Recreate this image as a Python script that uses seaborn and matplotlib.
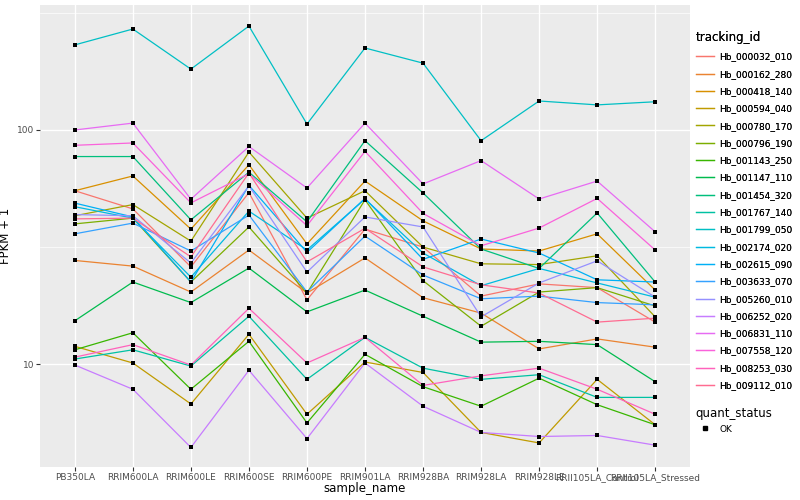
import pandas as pd
import numpy as np
import matplotlib
matplotlib.use("Agg")
import matplotlib.pyplot as plt
from matplotlib.lines import Line2D
import matplotlib.ticker as mticker
import seaborn as sns

samples = ["PB350LA", "RRIM600LA", "RRIM600LE", "RRIM600SE", "RRIM600PE", "RRIM901LA",
           "RRIM928BA", "RRIM928LA", "RRIM928LE", "RRII105LA_Control", "RRII105LA_Stressed"]

genes = ["Hb_000032_010", "Hb_000162_280", "Hb_000418_140", "Hb_000594_040", "Hb_000780_170",
         "Hb_000796_190", "Hb_001143_250", "Hb_001147_110", "Hb_001454_320", "Hb_001767_140",
         "Hb_001799_050", "Hb_002174_020", "Hb_002615_090", "Hb_003633_070", "Hb_005260_010",
         "Hb_006252_020", "Hb_006831_110", "Hb_007558_120", "Hb_008253_030", "Hb_009112_010"]

# FPKM + 1 per gene, in sample order
hb_000032_010 = [55, 46, 26, 54, 18.8, 37.7, 31.6, 19.5, 22, 21.2, 15.1]
hb_000162_280 = [27.7, 26.2, 20.3, 30.7, 20.1, 28.4, 19.2, 16.5, 11.6, 12.8, 11.8]
hb_000418_140 = [55, 63.6, 37.7, 71, 32.6, 60.5, 40.9, 31, 30.4, 36, 20.7]
hb_000594_040 = [11.9, 10.1, 6.75, 13.4, 6.1, 10.2, 9.2, 5.1, 4.6, 8.6, 5.5]
hb_000780_170 = [43, 48, 33.5, 80.5, 42, 55, 31.6, 26.8, 26.6, 29, 15.9]
hb_000796_190 = [39.7, 42, 22.4, 38.5, 20.1, 50.3, 22.7, 14.5, 20.3, 21.2, 17.7]
hb_001143_250 = [11.5, 13.6, 7.8, 12.5, 5.6, 11.0, 8.0, 6.6, 8.7, 6.7, 5.5]
hb_001147_110 = [15.3, 22.4, 18.3, 25.7, 16.7, 20.7, 16.0, 12.4, 12.5, 12.1, 8.4]
hb_001454_320 = [77, 77, 41.3, 66, 40.5, 90, 53.8, 31, 25.6, 44.2, 22.4]
hb_001767_140 = [10.5, 11.5, 9.8, 16.0, 8.6, 13.0, 9.6, 8.6, 9.0, 7.2, 7.2]
hb_001799_050 = [231, 270, 182, 278, 106, 224, 193, 90, 133, 128, 132]
hb_002174_020 = [47, 42, 23.5, 45, 30.7, 50.7, 29.8, 21.6, 25.6, 22.2, 19.3]
hb_002615_090 = [48.7, 42.5, 22.4, 58, 30, 51, 28, 34.2, 29.8, 22.9, 22.4]
hb_003633_070 = [36, 40, 30.4, 43.3, 20.3, 35.2, 24, 19.0, 19.5, 18.3, 17.9]
hb_005260_010 = [43.5, 43, 27, 57.7, 24.7, 42.5, 38.5, 15.9, 22.2, 27.6, 19.3]
hb_006252_020 = [9.9, 7.8, 4.4, 9.4, 4.8, 10.1, 6.6, 5.1, 4.9, 4.95, 4.5]
hb_006831_110 = [100, 107, 50.6, 85, 56.5, 107, 58.8, 74, 50.7, 60.5, 36.7]
hb_007558_120 = [86, 88, 48.8, 65, 39, 81, 44, 32, 38.1, 51, 30.7]
hb_008253_030 = [10.7, 12.1, 9.9, 17.3, 10.1, 13.0, 8.1, 8.9, 9.6, 7.8, 6.1]
hb_009112_010 = [41.7, 42, 28.7, 65.5, 27.3, 38, 26, 21.8, 20.1, 15.1, 15.7]

values = [hb_000032_010, hb_000162_280, hb_000418_140, hb_000594_040, hb_000780_170,
          hb_000796_190, hb_001143_250, hb_001147_110, hb_001454_320, hb_001767_140,
          hb_001799_050, hb_002174_020, hb_002615_090, hb_003633_070, hb_005260_010,
          hb_006252_020, hb_006831_110, hb_007558_120, hb_008253_030, hb_009112_010]

# ggplot default hue palette for 20 levels
colors = ["#F8766D", "#EA8331", "#D89000", "#C09B00", "#A3A500", "#7CAE00", "#39B600",
          "#00BB4E", "#00BF7D", "#00C1A3", "#00BFC4", "#00BAE0", "#00B0F6", "#35A2FF",
          "#9590FF", "#C77CFF", "#E76BF3", "#FA62DB", "#FF62BC", "#FF6C91"]

rows = []
for g, vals in zip(genes, values):
    for s, v in zip(samples, vals):
        rows.append({"tracking_id": g, "sample_name": s, "fpkm": v, "quant_status": "OK"})
df = pd.DataFrame(rows)
df["x"] = df["sample_name"].map({s: i for i, s in enumerate(samples)})

plt.rcParams["font.family"] = ["DejaVu Sans"]
fig = plt.figure(figsize=(8, 5), dpi=100)
ax = fig.add_axes([0.05, 0.066, 0.8125, 0.924])
ax.set_facecolor("#EBEBEB")

sns.lineplot(data=df, x="x", y="fpkm", hue="tracking_id", hue_order=genes,
             palette=colors, estimator=None, sort=False, linewidth=0.9,
             legend=False, ax=ax)
sns.scatterplot(data=df, x="x", y="fpkm", color="black", marker="s", s=9,
                linewidth=0, legend=False, ax=ax, zorder=5)

ax.set_yscale("log")
ax.set_ylim(3.63, 342)
ax.set_xlim(-0.6, len(samples) - 0.4)
ax.set_xticks(range(len(samples)))
ax.set_xticklabels(samples)
ax.yaxis.set_major_locator(mticker.FixedLocator([10, 100]))
ax.yaxis.set_major_formatter(mticker.FixedFormatter(["10", "100"]))
ax.yaxis.set_minor_locator(mticker.FixedLocator([10 ** 0.5, 10 ** 1.5, 10 ** 2.5]))
ax.yaxis.set_minor_formatter(mticker.NullFormatter())
ax.grid(which="major", color="white", linewidth=1.0)
ax.grid(which="minor", color="white", linewidth=0.5)
ax.set_axisbelow(True)
for sp in ax.spines.values():
    sp.set_visible(False)
ax.tick_params(axis="both", which="major", length=2.75, width=0.8, color="#333333",
               labelsize=6.5, labelcolor="#4D4D4D", pad=1.5)
ax.tick_params(axis="y", which="minor", length=0)
ax.set_xlabel("sample_name", fontsize=8.5)
ax.set_ylabel("FPKM + 1", fontsize=8.5)
ax.yaxis.set_label_coords(-0.043, 0.5)
ax.xaxis.set_label_coords(0.5, -0.033)
ax.xaxis.label.set_va("top")

# legends
h1 = [Line2D([], [], color=c, linewidth=0.9) for c in colors]
leg1 = fig.legend(h1, genes, title="tracking_id", loc="upper left",
                  bbox_to_anchor=(0.865, 0.945), frameon=False, fontsize=6.5,
                  title_fontsize=8.5, handlelength=2.0, handletextpad=0.6,
                  labelspacing=0.92, alignment="left", borderaxespad=0)
fig.add_artist(leg1)
h2 = [Line2D([], [], color="black", marker="s", markersize=2.5, linewidth=0)]
fig.legend(h2, ["OK"], title="quant_status", loc="upper left",
           bbox_to_anchor=(0.865, 0.193), frameon=False, fontsize=6.5,
           title_fontsize=8.5, handlelength=2.0, handletextpad=0.6,
           alignment="left", borderaxespad=0)

fig.savefig("out.png", dpi=100, facecolor="white")
